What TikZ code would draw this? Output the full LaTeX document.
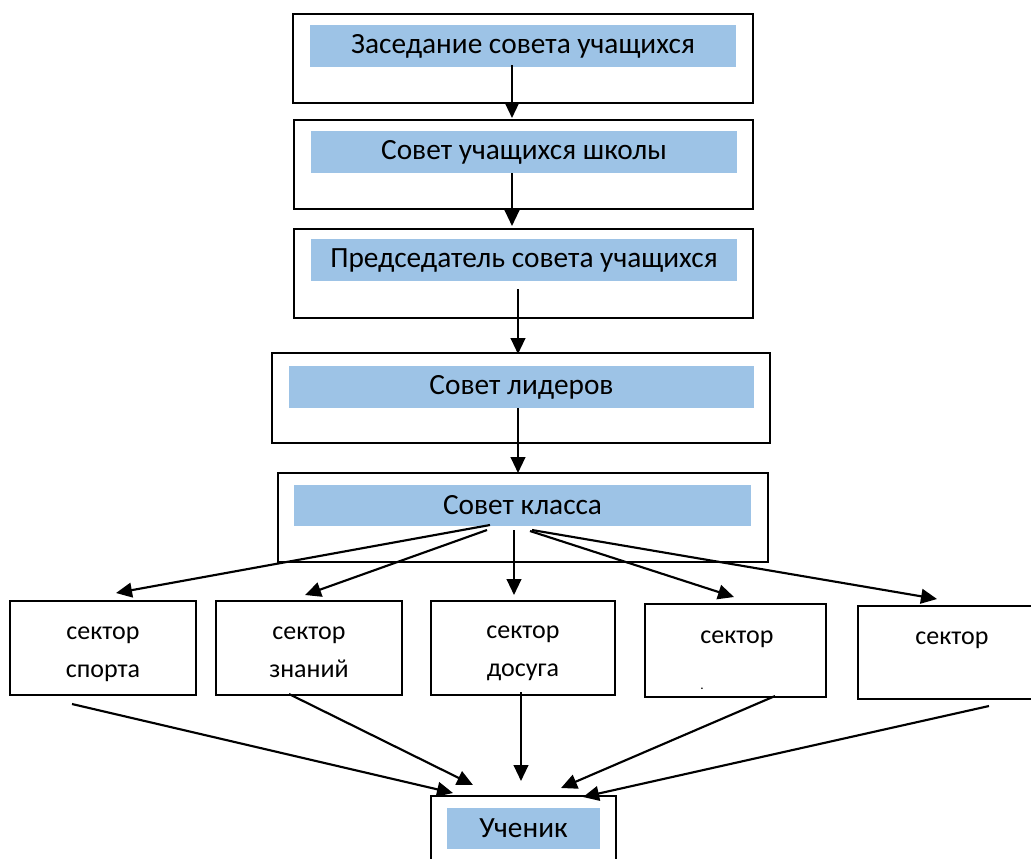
\documentclass[tikz,border=0pt]{standalone}
\usepackage{fontspec}
\setmainfont{Carlito}
\usetikzlibrary{arrows.meta}
\definecolor{bandblue}{HTML}{9DC3E6}
\newlength\px
\setlength\px{0.75pt}
\begin{document}
\begin{tikzpicture}[x=0.75pt,y=-0.75pt,
  outerbox/.style={draw=black, line width=1.2pt, inner sep=0pt, fill=white},
  band/.style={fill=bandblue, inner sep=0pt, font=\fontsize{22}{26}\selectfont},
  sectbox/.style={draw=black, line width=1.2pt, inner sep=0pt},
  secttext/.style={inner sep=0pt, anchor=base, font=\fontsize{19.5}{24}\selectfont},
  conn/.style={line width=1.6pt, -{Triangle[length=12pt,width=11pt]}}
]
\useasboundingbox (0,0) rectangle (1031,858);

% top chain
\node[outerbox, minimum width=460\px, minimum height=89\px] (b1) at (523,58.5) {};
\node[band, minimum width=426\px, minimum height=42\px] (t1) at (523,46) {Заседание совета учащихся};
\node[outerbox, minimum width=459\px, minimum height=89\px] (b2) at (523.5,164.5) {};
\node[band, minimum width=426\px, minimum height=42\px] (t2) at (524,152) {Совет учащихся школы};
\node[outerbox, minimum width=459\px, minimum height=89\px] (b3) at (523.5,273.5) {};
\node[band, minimum width=426\px, minimum height=42\px] (t3) at (524,260) {Председатель совета учащихся};
\node[outerbox, minimum width=498\px, minimum height=90\px] (b4) at (521,398) {};
\node[band, minimum width=465\px, minimum height=42\px] (t4) at (521.5,387) {Совет лидеров};
\node[outerbox, minimum width=490\px, minimum height=89\px] (b5) at (523,517.5) {};
\node[band, minimum width=457\px, minimum height=41\px] (t5) at (522.5,505) {Совет класса};

% sectors
\node[sectbox, minimum width=186\px, minimum height=94\px] (s1) at (103,648) {};
\node[secttext] (s1a) at (103,639) {сектор};
\node[secttext] (s1b) at (103,677) {спорта};
\node[sectbox, minimum width=186\px, minimum height=94\px] (s2) at (309,648) {};
\node[secttext] (s2a) at (309,639) {сектор};
\node[secttext] (s2b) at (309,677) {знаний};
\node[sectbox, minimum width=184\px, minimum height=94\px] (s3) at (523,648) {};
\node[secttext] (s3a) at (523,638) {сектор};
\node[secttext] (s3b) at (523,676) {досуга};
\node[sectbox, minimum width=181\px, minimum height=93\px] (s4) at (735.5,650.5) {};
\node[secttext] (s4a) at (737,643) {сектор};
\node[secttext, font=\fontsize{10}{12}\selectfont] (s4d) at (702,689) {.};
\node[sectbox, minimum width=190\px, minimum height=93\px] (s5) at (953,652.5) {};
\node[secttext] (s5a) at (952,644) {сектор};

% bottom
\node[outerbox, minimum width=185\px, minimum height=100\px] (b6) at (523.5,846) {};
\node[band, minimum width=153\px, minimum height=41\px] (t6) at (523.5,828) {Ученик};

% connector end points
\coordinate (a1s) at (512,65);   \coordinate (a1e) at (512,118);
\coordinate (a2s) at (512,173);  \coordinate (a2e) at (512,226);
\coordinate (a3s) at (518,289);  \coordinate (a3e) at (518,354);
\coordinate (a4s) at (518,408);  \coordinate (a4e) at (518,473);

\coordinate (f1s) at (490,525);  \coordinate (f1e) at (116,593);
\coordinate (f2s) at (487,530);  \coordinate (f2e) at (305,595);
\coordinate (f3s) at (514,530);  \coordinate (f3e) at (514,595);
\coordinate (f4s) at (530,531);  \coordinate (f4e) at (734,597);
\coordinate (f5s) at (532,530);  \coordinate (f5e) at (937,599);

\coordinate (c1s) at (72,704);   \coordinate (c1e) at (453,793);
\coordinate (c2s) at (289,694);  \coordinate (c2e) at (473,785);
\coordinate (c3s) at (521,692);  \coordinate (c3e) at (521,781);
\coordinate (c4s) at (775,696);  \coordinate (c4e) at (561,788);
\coordinate (c5s) at (989,706);  \coordinate (c5e) at (583,797);

\draw[conn] (a1s) -- (a1e);
\draw[conn] (a2s) -- (a2e);
\draw[conn] (a3s) -- (a3e);
\draw[conn] (a4s) -- (a4e);
\draw[conn] (f1s) -- (f1e);
\draw[conn] (f2s) -- (f2e);
\draw[conn] (f3s) -- (f3e);
\draw[conn] (f4s) -- (f4e);
\draw[conn] (f5s) -- (f5e);
\draw[conn] (c1s) -- (c1e);
\draw[conn] (c2s) -- (c2e);
\draw[conn] (c3s) -- (c3e);
\draw[conn] (c4s) -- (c4e);
\draw[conn] (c5s) -- (c5e);
\end{tikzpicture}
\end{document}
